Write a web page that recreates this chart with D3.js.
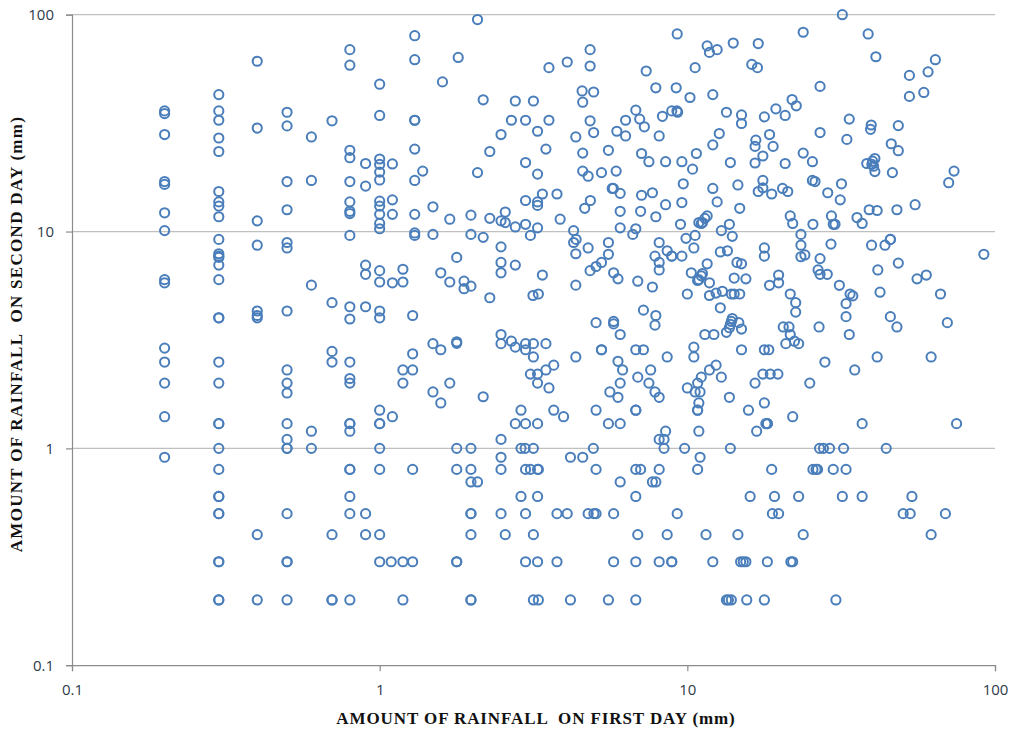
<!DOCTYPE html>
<html><head><meta charset="utf-8">
<script src="https://cdnjs.cloudflare.com/ajax/libs/d3/7.8.5/d3.min.js"></script>
<style>html,body{margin:0;padding:0;background:#fff}svg{display:block}</style></head>
<body><div id="chart"></div>
<script>
const xTicks = [0.1, 1, 10, 100];
const yTicks = [0.1, 1, 10, 100];
const xTitle = "AMOUNT OF RAINFALL  ON FIRST DAY (mm)";
const yTitle = "AMOUNT OF RAINFALL  ON SECOND DAY (mm)";

// second-day values for the discrete low first-day amounts
const firstDayColumns = [0.2,0.3,0.4,0.5,0.6,0.7,0.8,0.9,1,1.1];
const secondAt02 = [36,35,28,17,16.5,12.2,10.1,6,5.8,2.9,2.5,2];
const secondAt03 = [42.8,36,32.6,27,23.4,15.3,13.7,13.1,11.7,9.2,7.9,7.7,7.6,7,6,4,4,2.5,2];
const secondAt04 = [61,30,11.2,8.65,4.3,4.1,4];
const secondAt05 = [35.5,30.7,17,12.6,8.9,8.4,4.3,2.3,2,1.8];
const secondAt06 = [27.3,17.2,5.66];
const secondAt07 = [32.4,4.7,2.8,2.5];
const secondAt08 = [69,58.5,23.7,21.9,17,13.7,12.4,12.1,9.6,4.5,3.95,2.5,2.1,2];
const secondAt09 = [20.6,16.2,7,6.35,4.5];
const secondAt10 = [47.8,34.3,21.6,20.4,18.8,17.3,13.8,13.1,12,10.9,10.3,6.6,5.85,4.3,4];
const secondAt11 = [20.5,14,12,5.8];

// first-day values for the discrete low second-day amounts
const secondDayRows = [0.2,0.3,0.4,0.5,0.6,0.7,0.8,0.91,1,1.1,1.2,1.3,1.4,1.5];
const firstAt02 = [.3,.3,.4,.5,.7,.7,.8,1.19,1.98,1.98,3.16,3.28,4.17,5.54,6.8,13.4,13.6,13.9,15.6,17.8,30.4];
const firstAt03 = [.3,.3,.5,.5,1,1.09,1.19,1.28,1.78,1.78,2.98,3.26,3.77,5.76,6.8,8.1,8.9,8.9,12.1,14.9,15.2,15.5,18.2,21.7,22];
const firstAt04 = [.4,.7,.9,1,1.98,2.56,3.16,6.9,8.6,11.5,14.6,23.8,62];
const firstAt05 = [.3,.3,.5,.8,.9,1.98,1.98,2.48,2.98,3.77,4.07,4.76,4.97,5.05,5.76,9.27,18.9,19.8,50.3,53,69];
const firstAt06 = [.3,.3,.8,2.88,3.26,6.8,16,19.2,23,31.9,37,53.7];
const firstAt07 = [1.98,2.08,6.05,7.7,7.9];
const firstAt08 = [.3,.8,.8,1,1.28,1.78,1.98,2.48,2.98,3.09,3.26,3.28,5.05,6.8,7.05,8.1,10.8,18.8,25.6,26.2,26.5,29.8,32.8];
const firstAt09 = [.2,2.48,4.17,4.57,11];
const firstAt10 = [.3,.5,.5,.6,1,1.78,1.98,2.88,2.97,3.16,4.95,8.4,9.8,13.8,26.9,27.7,29,32.2,44.3];
const firstAt11 = [.5,2.48,8.1,8.4];
const firstAt12 = [.6,.8,8.5,10.9,16.8];
const firstAt13 = [.3,.3,.5,.8,.8,1,1,2.76,2.98,3.26,5.54,6.05,18,18.2,18.2,37,75];
const firstAt14 = [.2,1.1,3.96,22];
const firstAt15 = [1,2.88,3.68,5.05,6.8,6.8,10.8,15.8];

// [first day, second day] readings elsewhere
const pairsUpperLeft = [[2.08,95],[1.3,80],[1.3,62],[1.8,63.5],[1.6,49],[3.55,57],[4.07,60.5],[4.83,69],[4.83,58],[9.27,81.5],[7.35,55],[10.6,57],[7.9,46],[9.2,46],[10.2,41.5],[4.55,44.5],[4.96,44],[4.57,39.5],[2.17,40.5],[2.76,40],[3.16,40],[2.68,32.6],[2.98,32.6],[3.55,32.6],[4.83,32.4],[4.96,28.6],[2.48,28],[3.26,29],[4.34,27.3],[2.28,23.4],[3.47,24],[4.57,23],[5.54,23.7],[2.98,20.8],[2.08,18.7],[3.26,18.4],[4.57,19],[4.76,18],[5.26,18.7],[5.87,19],[1.3,32.6],[1.3,32.6],[1.3,24],[1.3,17.2],[1.38,19],[1.3,12],[1.49,13],[1.69,11.4],[1.98,11.9],[2.28,11.5],[2.48,11.2],[2.56,11],[2.56,12.3],[2.76,10.5],[2.98,10.8],[3.26,10.4],[2.98,13.9],[3.26,13.7],[3.26,13.2],[3.38,14.9],[3.77,14.9],[3.86,11.4],[4.27,10.1],[4.84,13.9],[4.64,12.8],[6.05,15],[5.7,15.8],[5.75,15.8],[7.1,14.7],[7.7,15.1],[7.5,21],[7.1,22.9],[8.5,21],[9.6,21],[10.4,19.4],[10.7,22.9],[9.7,16.6],[9.6,13.6],[8.5,13.3],[7.9,11.7],[7.05,12.4],[6.05,12.4],[6.05,10.4],[6.8,10.3],[9.5,10.8],[10.9,11],[6.8,36.3],[6.3,32.6],[7,33],[7.25,30.4],[5.9,29],[6.3,27.6],[8.3,34],[8.1,27.6],[8.9,36],[9.25,36],[9.3,35.5],[1.3,9.85],[1.3,9.6],[1.49,9.7],[1.98,9.7],[2.17,9.4],[3.09,9.6],[6.65,9.7],[10.6,9.6],[9.9,9.3]];
const pairsUpperRight = [[31.9,100],[23.8,83],[38.7,81.5],[41,64],[64,62],[60.6,54.5],[52.7,52.5],[52.7,42],[58.7,43.8],[27,46.7],[17,73.6],[14.1,74],[12.5,69],[11.6,71.8],[11.8,67],[16.2,59],[16.9,57],[12.1,42.8],[13.4,35.5],[15,34.5],[15,31.5],[17.8,33.8],[19.4,36.8],[20.8,34.3],[21.9,40.6],[22.6,38],[33.6,33],[39.6,31],[39.4,29.6],[48.5,30.8],[12.7,28.3],[12.1,25.1],[16.7,26.4],[16.6,24.7],[18.5,28],[19,24.7],[27,28.6],[33,26.6],[46,25.4],[48.5,23.6],[23.8,23],[25.5,21],[17.6,22.3],[16.6,20.7],[20.8,20.6],[13.8,20.8],[38.3,20.6],[40.7,21.7],[40,21.1],[39.8,20.4],[40.3,20],[40.7,18.9],[46.4,18.7],[73.6,19],[70.7,16.8],[31.7,16.6],[28.6,15.1],[31.4,14],[25.5,17.2],[26,17],[20.4,15.8],[21.2,15.3],[18.8,14.9],[17.6,17.2],[17.6,15.9],[17,15.3],[14.6,16.4],[12.1,15.8],[12.5,13.7],[14.8,12.8],[39,12.6],[41.4,12.5],[48,12.6],[55,13.3],[29.4,11.8],[35.6,11.6],[37,10.9],[21.6,11.8],[22,10.9],[25.6,10.8],[29.8,10.8],[30.2,10.8],[13.7,10.8],[12.9,10.1],[14,9.5],[23.4,9.7],[11.6,11.8],[11.4,11.5],[11.2,11],[11.1,10.9],[45.7,9.2]];
const pairsLowerLeft = [[1.28,4.1],[1.19,6.7],[1.19,5.85],[1.78,7.6],[1.58,6.45],[1.69,5.85],[1.88,5.9],[1.88,5.45],[1.98,5.6],[2.28,4.95],[2.48,8.5],[2.48,7.2],[2.48,6.45],[2.76,7],[3.38,6.3],[3.15,5.07],[3.28,5.15],[4.34,5.66],[4.34,7.9],[4.76,8.4],[4.27,8.9],[4.35,9.2],[5.54,8.9],[5.54,7.85],[5.26,7.2],[5.05,6.9],[4.83,6.6],[5.76,6.45],[5.95,6.05],[6.9,5.9],[7.7,5.55],[7.85,7.7],[8.1,7.2],[8.1,6.65],[8.1,8.9],[8.6,8.15],[8.9,7.7],[8.9,7.7],[9.6,7.7],[10.5,8.4],[10.3,6.45],[10,5.15],[5.05,3.8],[5.76,3.85],[5.76,3.75],[6.05,3.35],[7.2,4.34],[7.9,4.1],[7.85,3.7],[1.49,3.04],[1.58,2.85],[1.78,3.1],[1.78,3.05],[2.48,3.35],[2.48,3.04],[2.68,3.12],[2.76,2.93],[2.98,3.04],[2.98,2.85],[3.16,3.04],[3.47,3.04],[3.16,2.64],[1.28,2.73],[1.19,2.3],[1.28,2.3],[1.19,2],[1.49,1.82],[1.69,2],[1.58,1.62],[2.17,1.73],[4.34,2.64],[3.68,2.42],[3.47,2.3],[3.26,2.2],[3.09,2.2],[3.26,2],[3.55,1.9],[5.26,2.85],[5.26,2.85],[6.8,2.85],[7.2,2.85],[8.6,2.64],[5.95,2.52],[6.16,2.3],[6.05,2],[5.6,1.82],[5.95,1.72],[6.9,2.13],[7.6,2.3],[7.5,2],[7.85,1.82],[8.1,1.72],[10,1.9]];
const pairsLowerRight = [[23.4,8.65],[29.3,8.75],[39.7,8.65],[43.9,8.65],[45.7,9.2],[92,7.85],[48.5,7.15],[41.6,6.65],[55.8,6.05],[59.8,6.3],[66.5,5.15],[42.3,5.25],[45.7,4.05],[48,3.63],[70,3.8],[41.4,2.64],[62,2.64],[35,2.3],[28,2.5],[25,2],[10.9,1.62],[10.8,1.5],[17.8,1.62],[13.7,1.72],[10.6,1.82],[11,1.82],[10.8,2],[11.1,2.13],[11.8,2.3],[12.4,2.42],[12.9,2.13],[16.6,2],[17.6,2.2],[18.6,2.2],[19.7,2.2],[15,2.85],[17.8,2.85],[18.4,2.85],[10.5,2.93],[10.5,2.64],[11.4,3.35],[12.2,3.35],[13.4,3.43],[13.7,3.6],[14,3.97],[13.9,3.85],[13.8,3.73],[14.7,3.8],[15,3.55],[12.8,4.45],[11.8,5.07],[12.4,5.2],[13,5.3],[13.9,5.15],[14.2,5.15],[14.8,5.15],[15.5,6.05],[14.2,6.1],[14.5,7.2],[15,7.1],[12.8,8.05],[13.5,8.15],[11.6,7.1],[11.2,6.4],[11.1,6.25],[10.8,5.95],[10.9,6],[11.8,5.8],[17.8,8.4],[17.8,7.7],[19.8,6.3],[19.8,5.8],[18.5,5.65],[21.6,5.15],[22.5,4.7],[22.5,4.25],[20.5,3.63],[21.4,3.63],[21.6,3.35],[20.9,3.04],[22.3,3.12],[23,3.04],[23.4,7.65],[24.1,7.8],[27,7.5],[26.6,6.65],[27,6.35],[28.5,6.35],[31.2,5.65],[33.8,5.15],[34.5,5.05],[32.8,4.65],[32.8,4.05],[33.6,3.35],[26.8,3.63]];

const W = 1013, H = 734;
const m = {left:72, right:995, top:14.7, bottom:665.2};

const x = d3.scaleLog().domain([0.1,100]).range([m.left,m.right]);
const y = d3.scaleLog().domain([0.1,100]).range([m.bottom,m.top]);

const columnSets = [secondAt02,secondAt03,secondAt04,secondAt05,secondAt06,secondAt07,secondAt08,secondAt09,secondAt10,secondAt11];
const rowSets = [firstAt02,firstAt03,firstAt04,firstAt05,firstAt06,firstAt07,firstAt08,firstAt09,firstAt10,firstAt11,firstAt12,firstAt13,firstAt14,firstAt15];
const points = [
  ...columnSets.flatMap((vals,i)=>vals.map(v=>[firstDayColumns[i],v])),
  ...rowSets.flatMap((vals,i)=>vals.map(v=>[v,secondDayRows[i]])),
  ...pairsUpperLeft,...pairsUpperRight,...pairsLowerLeft,...pairsLowerRight
];

const svg = d3.select("#chart").append("svg").attr("width",W).attr("height",H);
const tickFont = "'Open Sans', sans-serif";
const titleFont = "'Liberation Serif', serif";

svg.append("g").selectAll("line").data(yTicks.filter(t=>t>0.1)).join("line")
  .attr("x1",m.left).attr("x2",m.right).attr("y1",d=>y(d)).attr("y2",d=>y(d))
  .attr("stroke","#c0c0c0").attr("stroke-width",1.2);

const axisX = d3.axisBottom(x).tickValues(xTicks).tickFormat(d=>String(d)).tickSize(6).tickPadding(13);
const axisY = d3.axisLeft(y).tickValues(yTicks).tickFormat(d=>String(d)).tickSize(6).tickPadding(12);
const gx = svg.append("g").attr("transform",`translate(0,${m.bottom})`).call(axisX);
const gy = svg.append("g").attr("transform",`translate(${m.left},0)`).call(axisY);
[gx,gy].forEach(g=>{
  g.selectAll("path,line").attr("stroke","#8c8c8c").attr("stroke-width",1.2);
  g.selectAll("text").attr("fill","#2f3a4a").style("font-family",tickFont).style("font-size","15px");
});

svg.append("g").selectAll("circle").data(points).join("circle")
  .attr("cx",d=>x(d[0])).attr("cy",d=>y(d[1])).attr("r",4.6)
  .attr("fill","none").attr("stroke","#4a7ebb").attr("stroke-width",2);

svg.append("text").attr("x",536).attr("y",724).attr("text-anchor","middle")
  .style("font-family",titleFont).style("font-weight","bold").style("font-size","17px").style("letter-spacing","0.9px")
  .style("white-space","pre").attr("xml:space","preserve").attr("fill","#111").text(xTitle);
svg.append("text").attr("transform","translate(22,334) rotate(-90)").attr("text-anchor","middle")
  .style("font-family",titleFont).style("font-weight","bold").style("font-size","17px").style("letter-spacing","1.3px")
  .style("white-space","pre").attr("xml:space","preserve").attr("fill","#111").text(yTitle);
</script></body></html>
